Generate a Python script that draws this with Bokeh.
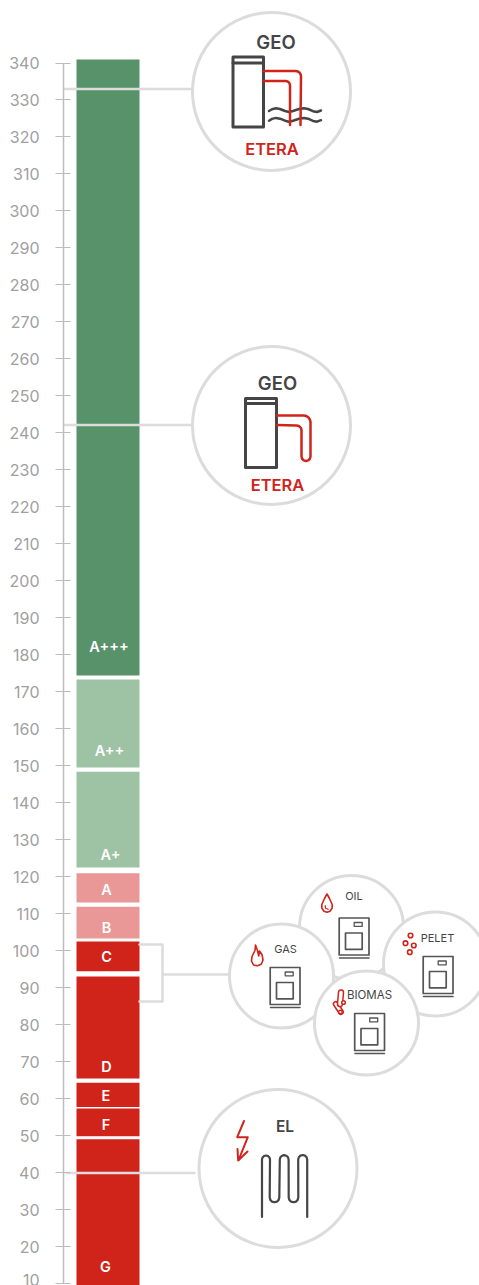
import numpy as np
from bokeh.plotting import figure
from bokeh.models import Range1d, FixedTicker
from bokeh.core.properties import value
from bokeh.embed import file_html
from bokeh.resources import INLINE

FONT = "Inter"
SEMI = "Inter SemiBold, Inter"
# chart data
tick_values = list(range(10, 350, 10))
class_names = ["A+++", "A++", "A+", "A", "B", "C", "D", "E", "F", "G"]
class_top = [340.95, 173.3, 148.4, 120.9, 111.9, 102.5, 93.0, 64.3, 57.3, 49.0]
class_bottom = [174.4, 149.5, 122.5, 113.0, 103.3, 94.4, 65.4, 57.7, 49.8, 9.0]
class_colors = ["#58926a", "#9dc3a4", "#9dc3a4", "#e99797", "#e99797",
                "#d0241b", "#d0241b", "#d0241b", "#d0241b", "#d0241b"]
label_x = [108.5, 109, 110, 106, 106, 106, 106, 105.5, 105.5, 105]
label_y = [646, 750, 853.5, 888.5, 927, 955.5, 1065.5, 1095, 1124, 1266]

DARK, RED, GREY = "#454545", "#d0241b", "#dcdcdc"
p = figure(width=479, height=1285, output_backend="svg", toolbar_location=None,
           x_range=Range1d(63, 479), y_range=Range1d(9.46, 356.9),
           min_border_left=63, min_border_right=0, min_border_top=0, min_border_bottom=0,
           outline_line_color=None)
p.extra_y_ranges["px"] = Range1d(1285, 0)
p.grid.visible = False
p.xaxis.visible = False
ax = p.yaxis[0]
ax.ticker = FixedTicker(ticks=tick_values)
ax.bounds = (10, 340)
ax.axis_line_color = "#bdbdbd"
ax.axis_line_width = 1.5
ax.major_tick_line_color = "#bdbdbd"
ax.major_tick_line_width = 1.2
ax.major_tick_in = 7
ax.major_tick_out = 8
ax.minor_tick_line_color = None
ax.major_label_text_color = "#a0a0a0"
ax.major_label_text_font = FONT
ax.major_label_text_font_size = "16px"
ax.major_label_standoff = 16


def line(xs, ys, color=DARK, w=2.5):
    p.line(xs, ys, y_range_name="px", line_color=color, line_width=w,
           line_join="round", line_cap="round")


def poly(pts, color=DARK, w=2.5):
    line([a for a, _ in pts], [b for _, b in pts], color, w)


def txt(x, y, s, color, size, font=FONT):
    p.text([x], [y], text=[s], y_range_name="px", text_color=color,
           text_font=value(font), text_font_size=size,
           text_align="center", text_baseline="middle")


def ring(cx, cy, r):
    p.circle([cx], [cy], radius=r, y_range_name="px", fill_color="white",
             line_color=GREY, line_width=3)


def arc(cx, cy, r, a0, a1, n=7):
    t = np.radians(np.linspace(a0, a1, n))
    return [(cx + r * np.cos(q), cy + r * np.sin(q)) for q in t]


# class bars
p.quad(left=76, right=139, bottom=class_bottom, top=class_top,
       fill_color=class_colors, line_color=None)
for s, x, y in zip(class_names, label_x, label_y):
    txt(x, y, s, "white", "14.5px", SEMI)

# connectors
line([64, 191], [88.5, 88.5], GREY, 2.5)
line([64, 191], [424.5, 424.5], GREY, 2.5)
line([66, 194], [1172.5, 1172.5], GREY, 2.5)
line([139, 162, 162, 139], [944, 944, 1001, 1001], GREY, 2.5)
line([162, 229], [974, 974], GREY, 2.5)

# GEO with ground loop
ring(271, 91, 79)
txt(275.5, 41, "GEO", DARK, "18.5px", SEMI)
txt(271.5, 148, "ETERA", RED, "16.5px", SEMI)
line([232.5, 263, 263, 232.5, 232.5], [56.5, 56.5, 126.5, 126.5, 56.5], DARK, 3)
line([232.5, 263], [62.5, 62.5], DARK, 3)
for dy in (0, 9.7):
    poly([(268.5 + a, 109.5 + b + dy) for a, b in
          [(0, 1), (3, -0.8), (7, -1.8), (11, -1), (16, 1), (20, 2), (24, 1), (30, -1),
           (35, -1.8), (39, -1), (44, 1.2), (48, 2), (52, 0.5)]], DARK, 2.5)
poly([(263, 70.5)] + arc(295, 76, 5.5, -90, 0) + [(300, 124.5)], RED, 2.5)
poly([(263, 80.5)] + arc(285, 85, 4.5, -90, 0) + [(289.5, 124.5)], RED, 2.5)

# GEO, closed loop
ring(271, 425, 79)
txt(277, 382, "GEO", DARK, "18.5px", SEMI)
txt(277, 484.5, "ETERA", RED, "16.5px", SEMI)
line([245, 276, 276, 245, 245], [398, 398, 467, 467, 398], DARK, 3)
line([245, 276], [403, 403], DARK, 3)
poly([(276, 415)] + arc(303, 422, 7, -90, 0) + arc(305.5, 456, 4.5, 0, 180)
     + arc(296, 430, 5, 0, -90) + [(276, 424.5)], RED, 2.5)

# boilers
ring(351, 927, 52)
ring(435, 963.5, 52)
ring(281, 975.5, 52)
ring(366, 1022.5, 52)


def boiler(dx, dy):
    def box(x0, x1, y0, y1, w=1.5):
        line([x0 + dx, x1 + dx, x1 + dx, x0 + dx, x0 + dx],
             [y0 + dy, y0 + dy, y1 + dy, y1 + dy, y0 + dy], "#555555", w)
    box(269.7, 299.5, 967, 1004, 1.7)
    box(276, 292.7, 982, 998.3, 1.7)
    box(284.7, 292.7, 971.5, 975.3, 1.3)
    line([270 + dx, 299.5 + dx], [1007 + dy, 1007 + dy], "#555555", 1.5)


boiler(0, 0)
boiler(69, -49.5)
boiler(153, -11)
boiler(84.5, 46)
txt(285, 948.5, "GAS", DARK, "11px")
txt(353.5, 895, "OIL", DARK, "11px")
txt(437, 937, "PELET", DARK, "11px")
txt(369, 994, "BIOMAS", DARK, "11.5px")

# flame
poly([(255, 944.5), (254.5, 950), (251.5, 956), (251, 960.5), (253, 964.5), (257, 965.3),
      (260.8, 963.8), (262.5, 959.5), (261.5, 954), (259, 950.5), (258.2, 955.5), (257, 950),
      (255, 944.5)], RED, 1.6)
# drop
poly([(326.5, 893.5), (324, 898), (321.3, 904), (321.3, 907.5), (323.5, 910.7), (326.5, 911.7),
      (329.5, 910.7), (331.7, 907.5), (331.7, 904), (329, 898), (326.5, 893.5)], RED, 1.6)
poly([(324.7, 905), (325, 907.7), (327.7, 908.7)], RED, 1.2)
# pellets
p.circle([410, 405, 413.3, 409.3], [935, 942.7, 945, 951.7], radius=2.3, y_range_name="px",
         fill_color=None, line_color=RED, line_width=1.6)
# logs
line([335.2, 340.5], [1003.5, 1011.5], RED, 6)
line([335.2, 340.5], [1003.5, 1011.5], "white", 3)
line([340.5, 339.5], [992, 1003.5], RED, 6.5)
line([340.5, 339.5], [992, 1003.5], "white", 3.5)
p.circle([343, 340], [1002, 1011.5], radius=1.8, y_range_name="px", fill_color="white",
         line_color=RED, line_width=1.5)

# EL
ring(277.5, 1168, 79)
txt(284.5, 1125.5, "EL", DARK, "15.5px", SEMI)
poly([(243.5, 1120.5), (236.7, 1136.7), (247.3, 1136.7), (238.3, 1159)], RED, 2)
poly([(237, 1148.5), (237.7, 1160), (247, 1151)], RED, 2)
poly([(261.5, 1216.5)] + arc(265.5, 1159, 4, 180, 360) + arc(274, 1197, 4.8, 180, 0)
     + arc(283.7, 1159, 4.4, 180, 360) + arc(293, 1197, 4.8, 180, 0)
     + arc(302.2, 1159, 4.5, 180, 360) + [(306.7, 1216.5)], DARK, 2.2)

open("out.html", "w").write(file_html(p, INLINE))
